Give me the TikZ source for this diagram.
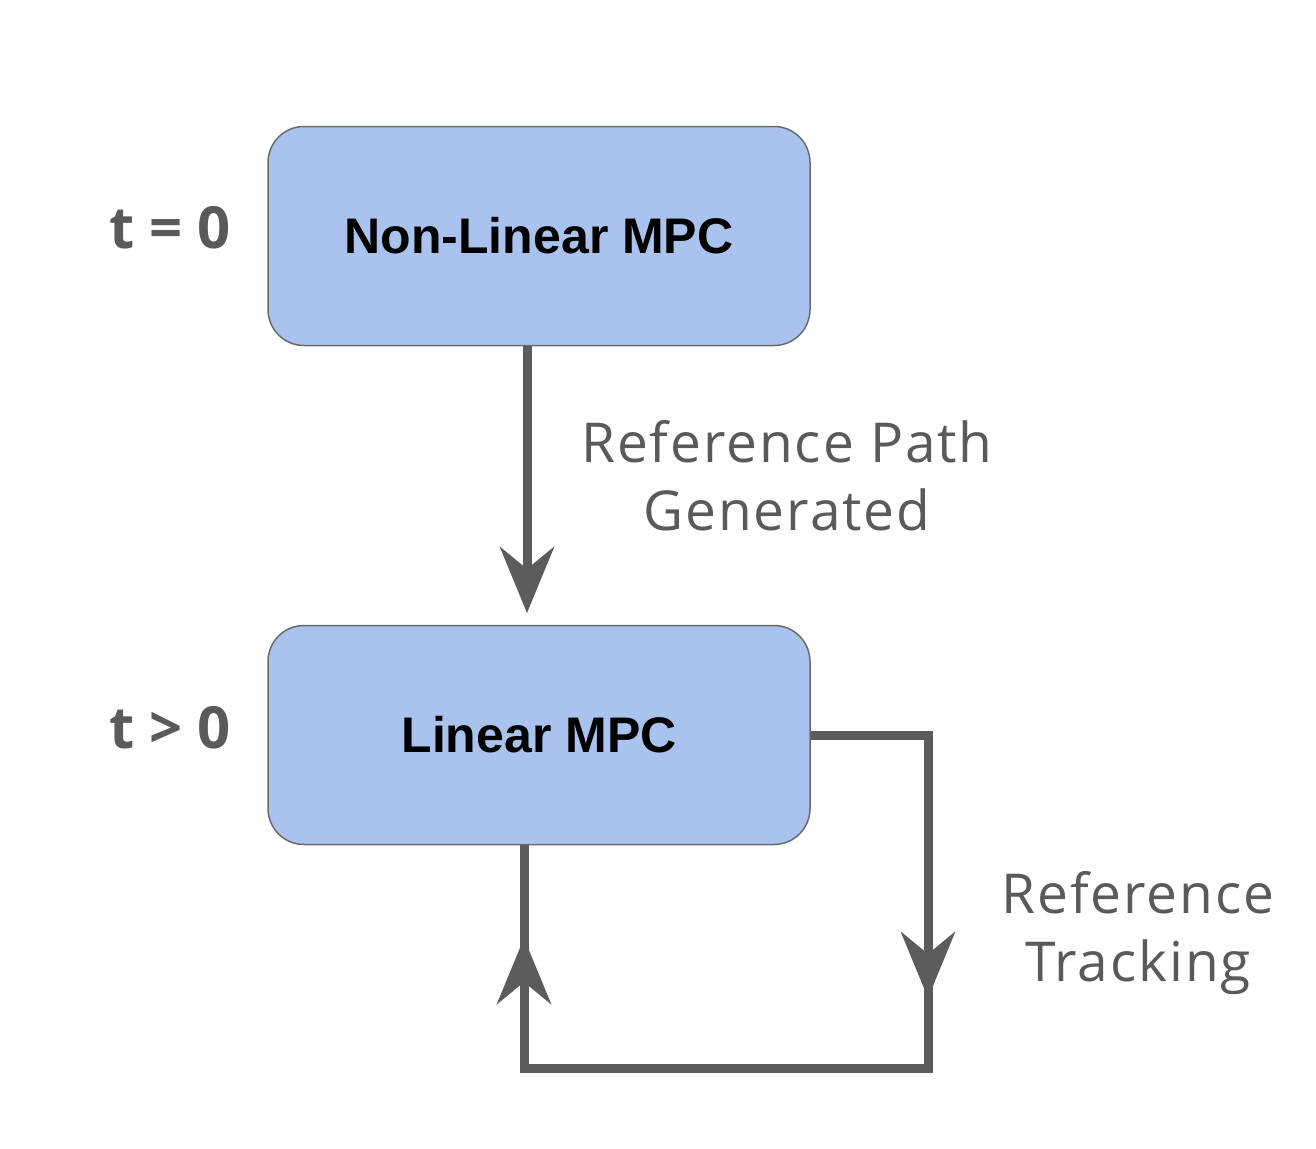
\documentclass[tikz,border=0pt]{standalone}
\usepackage{fontspec}
\setmainfont{Liberation Sans}
\newfontfamily\labelfont[LetterSpace=3.5]{Open Sans}
\newfontfamily\tfont{Open Sans}
\usetikzlibrary{arrows.meta}
\definecolor{boxfill}{HTML}{A9C3EE}
\definecolor{boxdraw}{HTML}{6B6B6B}
\definecolor{linegray}{HTML}{5C5C5C}
\definecolor{textgray}{HTML}{5A5A5A}
\tikzset{
  mpcbox/.style={draw=boxdraw, line width=1.5pt, fill=boxfill, rounded corners=36pt,
    minimum width=542pt, minimum height=219pt, inner sep=0pt,
    font=\fontsize{50}{60}\selectfont\bfseries, text=black},
  conn/.style={draw=linegray, line width=9pt},
  tip/.style={-{Stealth[length=66pt, width=54pt, inset=22pt]}},
  glabel/.style={font=\labelfont\fontsize{55}{68}\selectfont, text=textgray, align=center, inner sep=0pt},
  tlabel/.style={font=\tfont\fontsize{58}{64}\selectfont\bfseries, text=textgray, inner sep=0pt}
}
\begin{document}
\begin{tikzpicture}[x=1pt,y=-1pt]
\useasboundingbox[fill=white] (0,0) rectangle (1316,1148);
\node[mpcbox] (nl) at (539,236) {Non-Linear MPC};
\node[mpcbox] (lin) at (539,735) {Linear MPC};
\node[tlabel] (t0) at (170,228) {t = 0};
\node[tlabel] (t1) at (170,728) {t > 0};
\node[glabel] (rpg) at (787,476) {Reference Path\\Generated};
\node[glabel] (rt) at (1138,933) {Reference\\Tracking};
\coordinate (nlb) at (nl.south -| 527,0);
\coordinate (arrtip) at (527,613);
\coordinate (c1) at (928,735);
\coordinate (c2) at (928,1068);
\coordinate (c3) at (524,1068);
\coordinate (rtip) at (928,998);
\coordinate (ltip) at (524,938);
\coordinate (lstart) at (524,1040);
\draw[conn, tip] (nlb) -- (arrtip);
\draw[conn, line join=miter] (lin.east) -- (c1) -- (c2) -- (c3) -- (lin.south -| c3);
\draw[conn, tip] (c1) -- (rtip);
\draw[conn, tip] (lstart) -- (ltip);
\end{tikzpicture}
\end{document}
